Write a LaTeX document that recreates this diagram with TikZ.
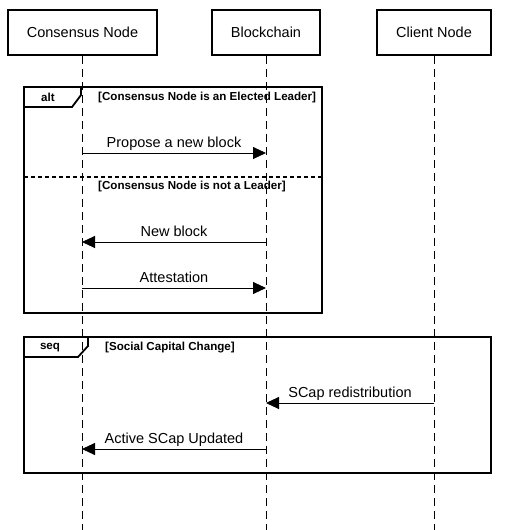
\documentclass[tikz,border=0pt]{standalone}
\usepackage{fontspec}
\setmainfont{Liberation Sans}
\usetikzlibrary{arrows.meta}
\begin{document}
\begin{tikzpicture}[x=1pt, y=-1pt,
    actor/.style={draw, line width=1.6pt, minimum width=#1, minimum height=45pt, inner sep=0pt, font=\fontsize{14.5}{17}\selectfont},
    lifeline/.style={line width=0.9pt, dash pattern=on 8pt off 5pt},
    frame/.style={line width=1.8pt},
    msg/.style={line width=0.9pt, -{Triangle[length=13pt, width=12pt]}},
    msgtext/.style={above, inner sep=3pt, text depth=2pt, font=\fontsize{14.5}{17}\selectfont},
    guard/.style={anchor=west, inner sep=0pt, font=\fontsize{11.6}{13}\bfseries\selectfont}]
  \useasboundingbox (0,0) rectangle (507,530);

  % Participantes
  \node[actor=149pt] (cn) at (82.5,32.5) {Consensus Node};
  \node[actor=108pt] (bc) at (266,32.5) {Blockchain};
  \node[actor=114pt] (cl) at (434,32.5) {Client Node};

  % Linhas de vida
  \coordinate (cnEnd) at (82,530);
  \coordinate (bcEnd) at (266,530);
  \coordinate (clEnd) at (434,530);
  \draw[lifeline] (cn.south -| cnEnd) -- (cnEnd);
  \draw[lifeline] (bc.south -| bcEnd) -- (bcEnd);
  \draw[lifeline] (cl.south -| clEnd) -- (clEnd);

  % Fragmento alt
  \draw[frame] (24,87) rectangle (322,313);
  \draw[frame] (24,107) -- (72,107) -- (81,95) -- (81,87);
  \node[font=\fontsize{11.6}{13}\bfseries\selectfont] (alt) at (48,97) {alt};
  \node[guard] (g1) at (98,97) {[Consensus Node is an Elected Leader]};
  \draw[line width=1.6pt, dash pattern=on 4pt off 3pt] (24,177) -- (322,177);
  \node[guard] (g2) at (98,186) {[Consensus Node is not a Leader]};

  % Fragmento seq
  \draw[frame] (24,337) rectangle (491,473);
  \draw[frame] (24,357) -- (78,357) -- (88,346) -- (88,337);
  \node[font=\fontsize{11.6}{13}\bfseries\selectfont] (seq) at (50,348) {seq};
  \node[guard] (g3) at (105,348) {[Social Capital Change]};

  % Pontos das mensagens
  \coordinate (cn1) at (82,153);  \coordinate (bc1) at (266,153);
  \coordinate (cn2) at (82,242);  \coordinate (bc2) at (266,242);
  \coordinate (cn3) at (82,288);  \coordinate (bc3) at (266,288);
  \coordinate (bc4) at (266,403); \coordinate (cl4) at (434,403);
  \coordinate (cn5) at (82,449);  \coordinate (bc5) at (266,449);

  % Mensagens
  \draw[msg] (cn1) -- node[msgtext] {Propose a new block} (bc1);
  \draw[msg] (bc2) -- node[msgtext] {New block} (cn2);
  \draw[msg] (cn3) -- node[msgtext] {Attestation} (bc3);
  \draw[msg] (cl4) -- node[msgtext] {SCap redistribution} (bc4);
  \draw[msg] (bc5) -- node[msgtext] {Active SCap Updated} (cn5);
\end{tikzpicture}
\end{document}
